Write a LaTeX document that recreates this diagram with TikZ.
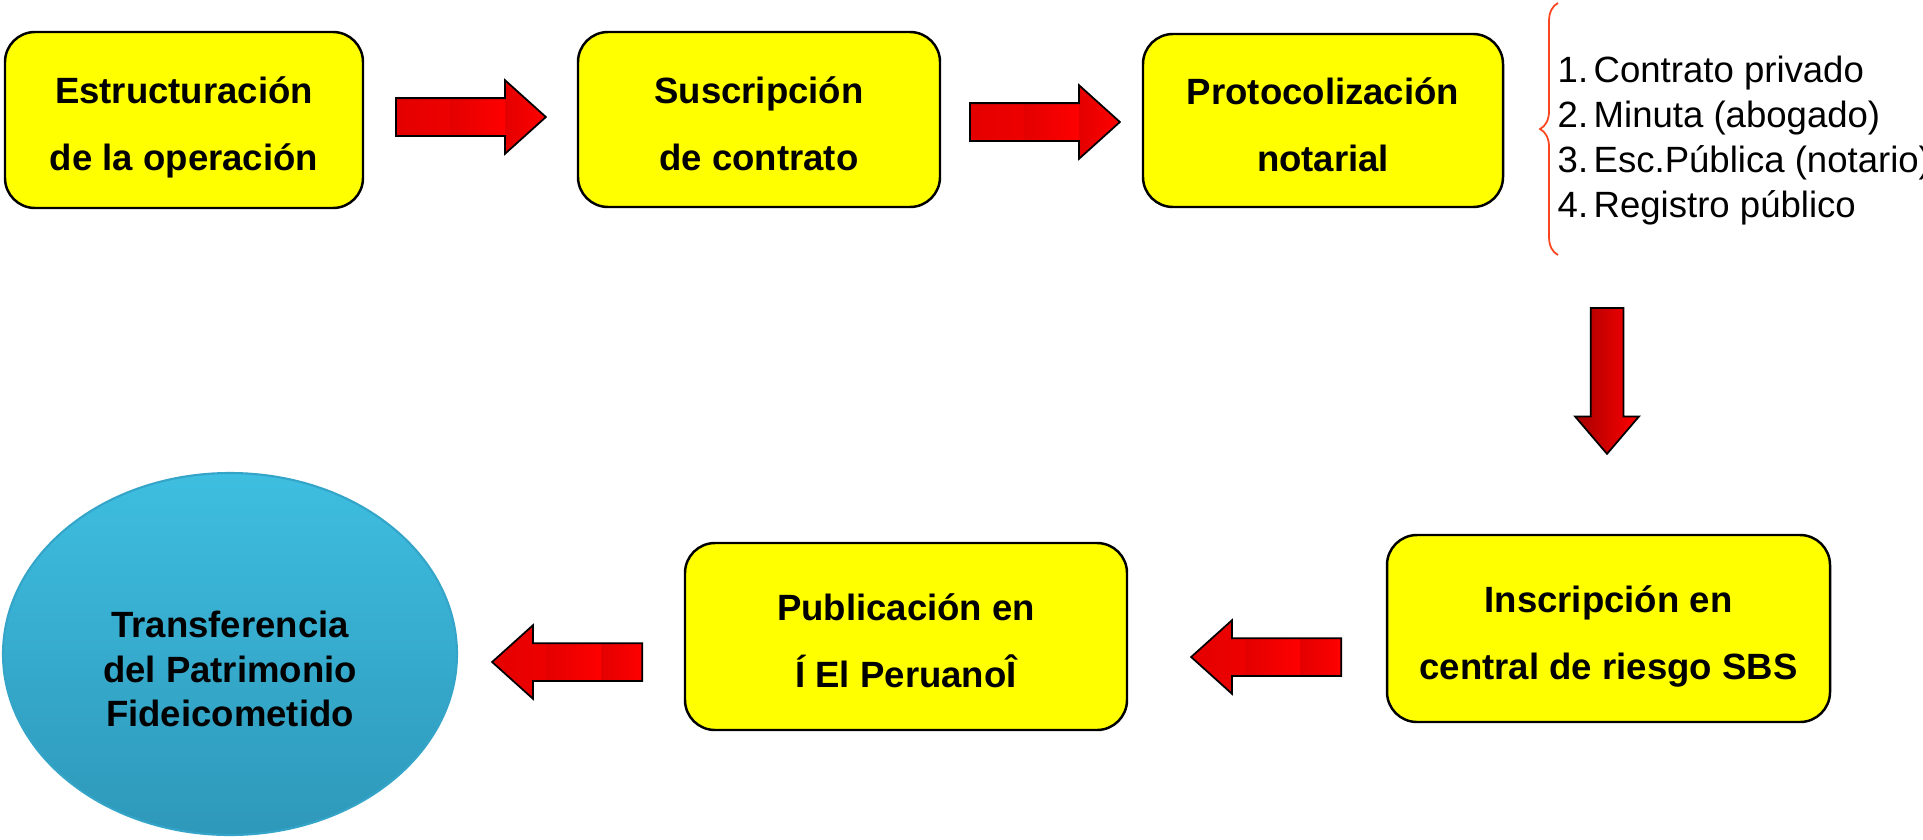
\documentclass[tikz,border=0pt]{standalone}
\usepackage{fontspec}
\setmainfont{Liberation Sans}
\usetikzlibrary{shapes.geometric,shapes.arrows,decorations.pathreplacing,calc}

\definecolor{amarillo}{RGB}{255,255,0}
\definecolor{rojoosc}{RGB}{228,0,0}
\definecolor{rojofondo}{RGB}{165,0,0}
\definecolor{celestesup}{RGB}{62,190,224}
\definecolor{celesteinf}{RGB}{46,152,186}
\definecolor{celesteborde}{RGB}{52,165,200}
\definecolor{llavecol}{RGB}{250,70,30}

% puntal para bajar la primera linea
\newcommand{\alto}{\rule{0pt}{0.42cm}}

\tikzset{
  paso/.style={draw=black, line width=0.7pt, fill=amarillo, rounded corners=0.3cm,
    align=center, inner sep=0, font=\fontsize{10.4}{19}\selectfont\bfseries,
    execute at end node={\rule[-0.077cm]{0pt}{0pt}}},
  flecha/.style={single arrow, draw=black, line width=0.5pt, fill=red,
    inner sep=0.18cm, minimum width=0.72cm, minimum height=1.5cm,
    single arrow head extend=0.18cm, single arrow tip angle=84, anchor=tail,
    path picture={
      \foreach \ini/\fin in {0/0.36,0.36/0.73,0.73/1}
        \shade[left color=rojoosc, right color=red]
          ($(path picture bounding box.south west)!\ini!(path picture bounding box.south east)$)
          rectangle ($(path picture bounding box.north west)!\fin!(path picture bounding box.north east)$);
    }},
  flechabaja/.style={single arrow, shape border rotate=270, draw=black, line width=0.5pt,
    inner sep=0.155cm, minimum width=0.62cm, minimum height=1.46cm,
    single arrow head extend=0.155cm, single arrow tip angle=81, anchor=tail,
    left color=rojofondo, right color=red},
  llave/.style={draw=llavecol, line width=0.5pt, decorate, decoration={brace, amplitude=0.18cm}},
}

\begin{document}
\begin{tikzpicture}
\useasboundingbox (0,0) rectangle (19.23,8.39);
\clip (0,0) rectangle (19.23,8.39);

% fila superior
\node[paso, minimum width=3.58cm, minimum height=1.76cm] (estr) at (1.84,7.19) {\alto Estructuración\\de la operación};
\node[paso, minimum width=3.62cm, minimum height=1.75cm] (susc) at (7.59,7.195) {\alto Suscripción\\de contrato};
\node[paso, minimum width=3.6cm, minimum height=1.73cm] (prot) at (13.23,7.185) {\alto Protocolización\\notarial};

% lista de documentos
\node[anchor=west, inner sep=0, align=left, font=\fontsize{10.4}{12.8}\selectfont] (lista) at (15.57,6.98)
  {\makebox[0.36cm][l]{1.}Contrato privado\\
   \makebox[0.36cm][l]{2.}Minuta (abogado)\\
   \makebox[0.36cm][l]{3.}Esc.Pública (notario)\\
   \makebox[0.36cm][l]{4.}Registro público};
\coordinate (llave-a) at (15.58,5.84);
\coordinate (llave-b) at (15.58,8.36);
\draw[llave] (llave-a) -- (llave-b);

% fila inferior
\node[paso, minimum width=4.43cm, minimum height=1.87cm] (ins) at (16.085,2.105) {\alto Inscripción en\\central de riesgo SBS};
\node[paso, minimum width=4.42cm, minimum height=1.87cm] (pub) at (9.06,2.025) {\alto Publicación en\\Í El PeruanoÎ};
\node[ellipse, minimum width=4.54cm, minimum height=3.62cm, inner sep=0,
  top color=celestesup, bottom color=celesteinf, draw=celesteborde, line width=0.6pt,
  font=\fontsize{10.4}{12.8}\selectfont\bfseries] (trans) at (2.30,1.85)
  {\raisebox{-0.19cm}[\height][\depth]{\begin{tabular}{@{}c@{}}Transferencia\\del Patrimonio\\Fideicometido\end{tabular}}};

% flechas
\node[flecha] (f1) at (3.95,7.22) {};
\node[flecha] (f2) at (9.69,7.17) {};
\node[flechabaja] (f3) at (16.07,5.32) {};
\node[flecha, shape border rotate=180] (f4) at (13.42,1.82) {};
\node[flecha, shape border rotate=180] (f5) at (6.43,1.77) {};
\end{tikzpicture}
\end{document}
